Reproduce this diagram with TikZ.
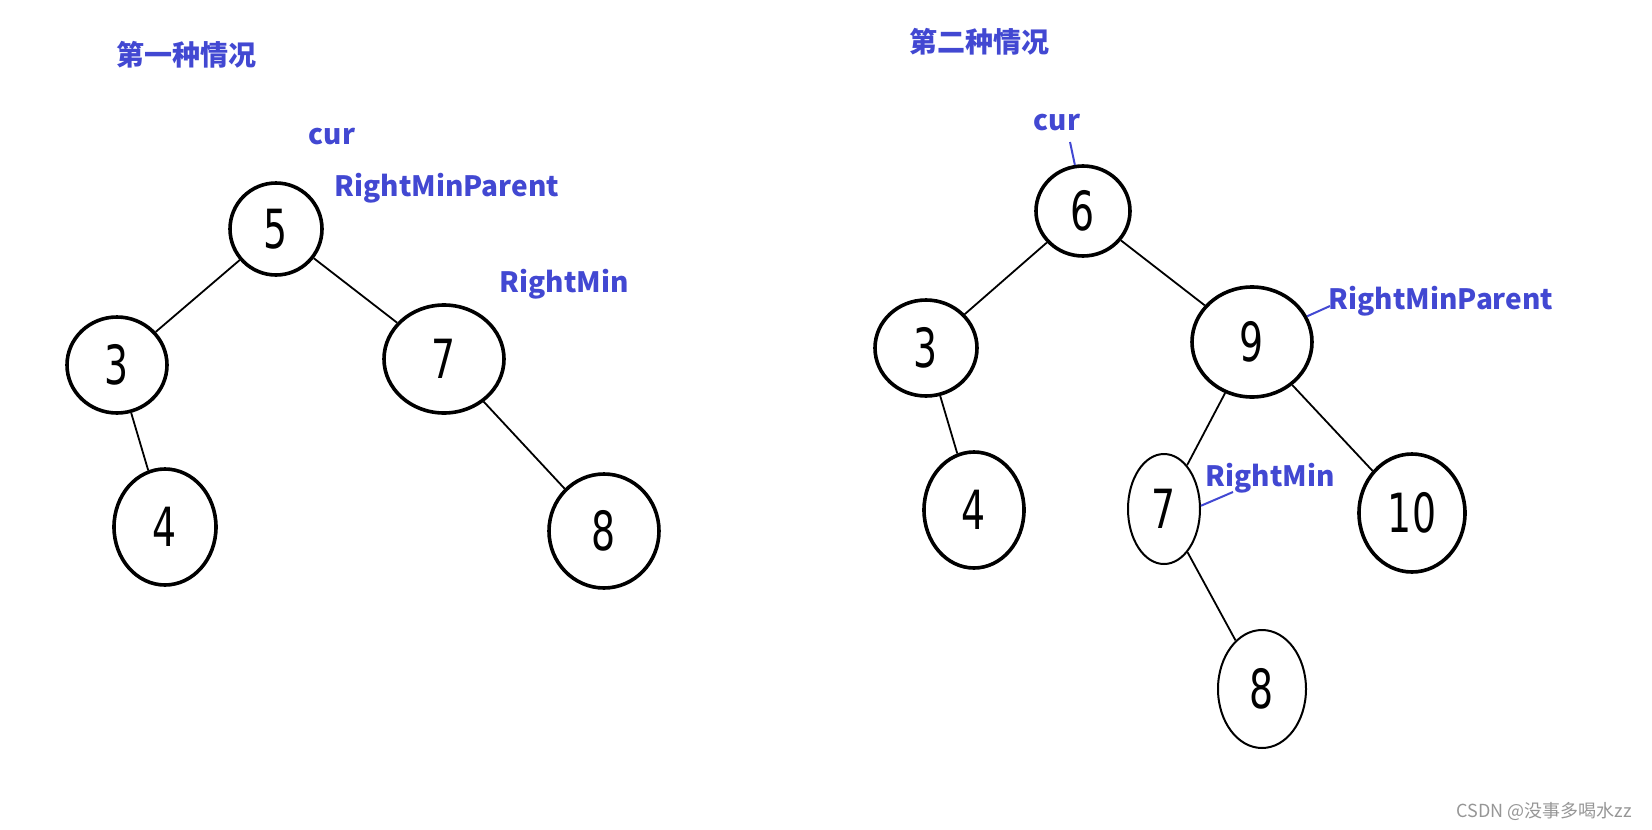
\documentclass[tikz,border=0pt]{standalone}
\usepackage{fontspec}
\setmainfont{Liberation Sans}
\newfontfamily\cjk{Noto Sans CJK SC}
\newfontfamily\digitfont{DejaVu Sans}
\usetikzlibrary{shapes.geometric}
\definecolor{lblue}{RGB}{66,72,210}
\definecolor{wgray}{RGB}{150,150,150}
\tikzset{
  tnode/.style={draw, ellipse, line width=3.6pt, inner sep=0pt, font=\digitfont\fontsize{54}{54}\selectfont},
  thinnode/.style={tnode, line width=2pt},
  sz/.style 2 args={minimum width=#1pt, minimum height=#2pt},
  edge/.style={line width=1.8pt},
  lbl/.style={text=lblue, font=\cjk\bfseries\fontsize{28}{28}\selectfont, inner sep=0pt},
  lead/.style={draw=lblue, line width=2pt},
}
\newcommand{\dg}[1]{\scalebox{0.7}[1]{#1}}
\begin{document}
\begin{tikzpicture}[x=1pt,y=-1pt]
\useasboundingbox (0,0) rectangle (1652,830);
% ---------- first case ----------
\node[lbl] (t1) at (186,55) {第一种情况};
\node[lbl] (cur1) at (332,137) {cur};
\node[lbl] (rmp1) at (447,188) {RightMinParent};
\node[lbl] (rm1) at (564,284) {RightMin};
\node[tnode, sz={92}{92}] (a5) at (276,229) {\dg{5}};
\node[tnode, sz={100}{96}] (a3) at (117,365) {\dg{3}};
\node[tnode, sz={120}{108}] (a7) at (444,359) {\dg{7}};
\node[tnode, sz={102}{116}] (a4) at (165,527) {\dg{4}};
\node[tnode, sz={110}{114}] (a8) at (604,531) {\dg{8}};
\draw[edge] (a5) -- (a3);
\draw[edge] (a5) -- (a7);
\draw[edge] (a3) -- (a4);
\draw[edge] (a7) -- (a8);
% ---------- second case ----------
\node[lbl] (t2) at (979,42) {第二种情况};
\node[lbl] (cur2) at (1057,123) {cur};
\node[lbl] (rmp2) at (1441,301) {RightMinParent};
\node[lbl] (rm2) at (1270,478) {RightMin};
\node[tnode, sz={94}{90}] (b6) at (1083,211) {\dg{6}};
\node[tnode, sz={102}{96}] (b3) at (926,348) {\dg{3}};
\node[tnode, sz={120}{110}] (b9) at (1252,342) {\dg{9}};
\node[tnode, sz={100}{116}] (b4) at (974,510) {\dg{4}};
\node[thinnode, sz={72}{110}] (b7) at (1164,509) {\dg{7}};
\node[tnode, sz={106}{118}] (b10) at (1412,513) {\dg{10}};
\node[thinnode, sz={88}{118}] (b8) at (1262,689) {\dg{8}};
\draw[edge] (b6) -- (b3);
\draw[edge] (b6) -- (b9);
\draw[edge] (b3) -- (b4);
\draw[edge] (b9) -- (b7);
\draw[edge] (b9) -- (b10);
\draw[edge] (b7) -- (b8);
% leader lines
\coordinate (c1) at (1070,142);
\coordinate (c2) at (1330,306);
\coordinate (c3) at (1233,492);
\draw[lead] (c1) -- (b6.100);
\draw[lead] (b9.25) -- (c2);
\draw[lead] (b7.5) -- (c3);
% watermark
\node[text=wgray, font=\cjk\fontsize{18}{18}\selectfont, inner sep=0pt] (wm) at (1544,811) {CSDN @没事多喝水zz};
\end{tikzpicture}
\end{document}
